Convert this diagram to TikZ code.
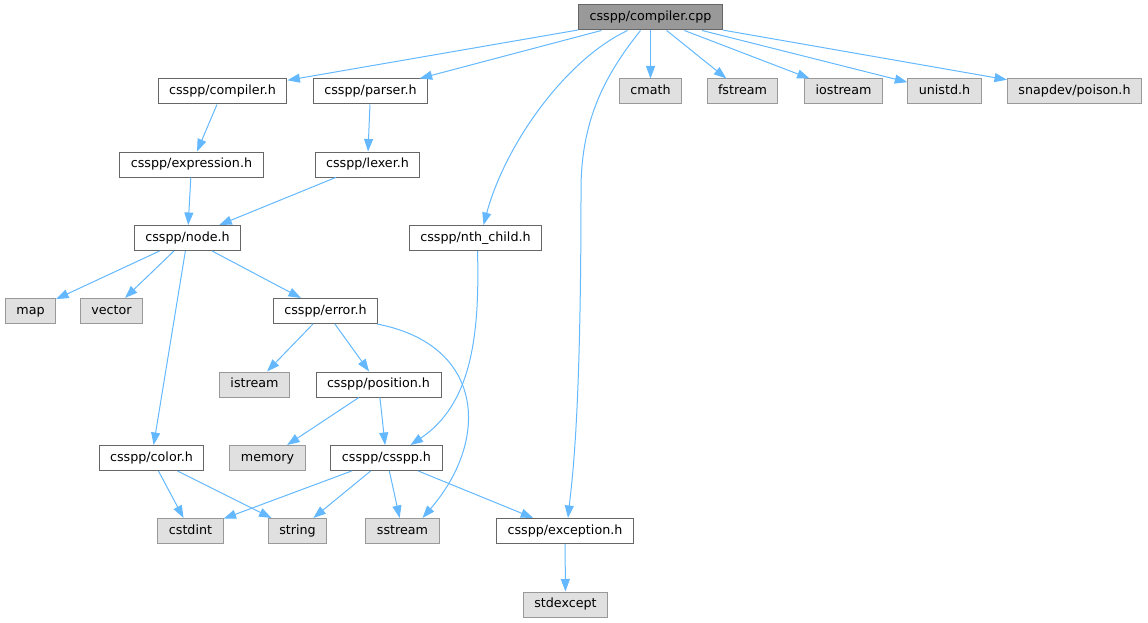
\documentclass[tikz,border=0pt]{standalone}
\usepackage{fontspec}
\setmainfont{DejaVu Sans}
\usetikzlibrary{arrows.meta}
\definecolor{edgeblue}{HTML}{63B8FF}
\definecolor{incline}{HTML}{666666}
\definecolor{sysline}{HTML}{999999}
\definecolor{sysfill}{HTML}{E0E0E0}
\definecolor{rootfill}{HTML}{999999}
\begin{document}
\begin{tikzpicture}[x=1pt, y=-1pt, >={Triangle[length=12.5pt,width=9pt]},
  incbox/.style={draw=incline, fill=white, line width=1pt, minimum height=25pt,
    inner xsep=11pt, inner ysep=0pt, text height=9.5pt, text depth=3pt,
    font=\fontsize{12.7}{15}\selectfont},
  sysbox/.style={incbox, draw=sysline, fill=sysfill},
  rootbox/.style={incbox, fill=rootfill},
  dep/.style={->, draw=edgeblue, line width=1pt}]
\useasboundingbox (0,0) rectangle (1148,623);

% row 0
\node[rootbox] (root) at (650.5,17.5) {csspp/compiler.cpp};
% row 1
\node[incbox] (compilerh) at (222.5,91.5) {csspp/compiler.h};
\node[incbox] (parserh) at (370.5,91.5) {csspp/parser.h};
\node[sysbox] (cmath) at (650.5,91.5) {cmath};
\node[sysbox] (fstream) at (742.5,91.5) {fstream};
\node[sysbox] (iostream) at (843.5,91.5) {iostream};
\node[sysbox] (unistdh) at (944.5,91.5) {unistd.h};
\node[sysbox] (poison) at (1074.5,91.5) {snapdev/poison.h};
% row 2
\node[incbox] (expressionh) at (191.5,164.5) {csspp/expression.h};
\node[incbox] (lexerh) at (367.5,164.5) {csspp/lexer.h};
% row 3
\node[incbox] (nodeh) at (187.5,238) {csspp/node.h};
\node[incbox] (nthchildh) at (475.5,238) {csspp/nth\_child.h};
% row 4
\node[sysbox] (map) at (30.5,311) {map};
\node[sysbox] (vector) at (111.5,311) {vector};
\node[incbox] (errorh) at (325.5,311) {csspp/error.h};
% row 5
\node[sysbox] (istream) at (254.5,384.5) {istream};
\node[incbox] (positionh) at (378.5,384.5) {csspp/position.h};
% row 6
\node[incbox] (colorh) at (151.5,458) {csspp/color.h};
\node[sysbox] (memory) at (267.5,458) {memory};
\node[incbox] (cssppH) at (386.5,458) {csspp/csspp.h};
% row 7
\node[sysbox] (cstdint) at (190.5,531) {cstdint};
\node[sysbox] (string) at (297.5,531) {string};
\node[sysbox] (sstream) at (402.5,531) {sstream};
\node[incbox] (exceptionh) at (565,531) {csspp/exception.h};
% row 8
\node[sysbox] (stdexcept) at (565.5,604.5) {stdexcept};

\foreach \a/\b in {root/compilerh, root/parserh, root/cmath, root/fstream,
    root/iostream, root/unistdh, root/poison, compilerh/expressionh,
    parserh/lexerh, expressionh/nodeh, lexerh/nodeh, nodeh/map, nodeh/vector,
    nodeh/errorh, nodeh/colorh, errorh/istream, errorh/positionh,
    positionh/memory, positionh/cssppH, colorh/cstdint, colorh/string,
    cssppH/cstdint, cssppH/string, cssppH/sstream, cssppH/exceptionh,
    exceptionh/stdexcept}
{
    \draw[dep] (\a) -- (\b);
}

% curved ones
\draw[dep] ([xshift=-23pt]root.south) .. controls (565,60) and (505,145) .. ([xshift=8pt]nthchildh.north);
\draw[dep] ([xshift=-10pt]root.south) .. controls (605,75) and (581,120) .. (581,190)
  .. controls (581,420) and (572,480) .. ([xshift=3pt]exceptionh.north);
\draw[dep] ([xshift=2pt]nthchildh.south) .. controls (480,340) and (470,405) .. ([xshift=24pt]cssppH.north);
\draw[dep] ([xshift=-1pt]errorh.south east) .. controls (485,345) and (490,440) .. ([xshift=20pt]sstream.north);

\end{tikzpicture}
\end{document}
